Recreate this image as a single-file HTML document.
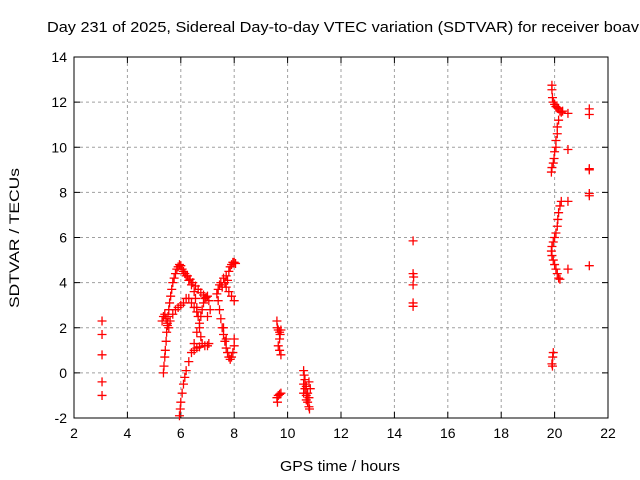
<!DOCTYPE html>
<html><head><meta charset="utf-8"><style>
body{margin:0;background:#fff;}
svg{display:block;font-family:"Liberation Sans",sans-serif;}
</style></head><body>
<svg id="chart" width="640" height="480">
<rect width="640" height="480" fill="#fff"/>
<text x="47" y="32" font-size="15" textLength="592" lengthAdjust="spacingAndGlyphs">Day 231 of 2025, Sidereal Day-to-day VTEC variation (SDTVAR) for receiver boav</text>
<text x="280" y="471" font-size="15" textLength="120" lengthAdjust="spacingAndGlyphs">GPS time / hours</text>
<text x="0" y="0" font-size="14" textLength="140" lengthAdjust="spacingAndGlyphs" transform="translate(19,308) rotate(-90)">SDTVAR / TECUs</text>
<g id="grid"></g><g id="axes"></g><g id="marks"></g>
</svg>
<script>
const xTicks=[2,4,6,8,10,12,14,16,18,20,22];
const yTicks=[-2,0,2,4,6,8,10,12,14];
const hours=[3.05,3.05,3.05,3.05,3.05,
5.35,5.37,5.4,5.42,5.45,5.47,5.5,5.52,5.55,5.58,5.62,5.66,5.7,5.75,5.8,5.85,5.9,5.95,6.0,6.05,6.1,6.15,6.2,6.3,6.4,6.5,6.55,6.6,6.65,6.7,6.75,6.8,6.9,7.0,7.05,
5.95,5.98,6.0,6.05,6.1,6.15,6.2,6.3,6.4,6.5,6.6,6.7,6.75,6.8,6.85,6.9,7.0,7.05,7.1,7.0,
5.3,5.35,5.4,5.45,5.5,5.55,5.6,5.7,5.8,5.9,6.0,6.1,6.2,6.3,6.4,6.5,6.6,
6.25,6.35,6.45,6.55,6.65,6.75,6.85,6.95,6.6,6.7,6.5,
7.35,7.4,7.45,7.5,7.55,7.6,7.65,7.7,7.75,7.8,7.85,7.9,7.95,8.0,8.05,7.7,7.8,7.9,8.0,
7.4,7.45,7.5,7.55,7.6,7.65,7.7,7.75,7.8,7.85,7.9,7.95,8.0,8.0,7.6,7.7,
9.6,9.62,9.65,9.7,9.72,9.75,9.7,9.65,9.7,9.75,9.6,9.62,9.65,9.7,9.75,
10.6,10.62,10.65,10.6,10.65,10.7,10.75,10.7,10.8,10.75,10.8,10.82,10.85,10.8,10.6,10.7,
14.7,14.7,14.72,14.7,14.7,14.7,
19.9,19.9,19.92,19.95,20.0,20.05,20.1,20.15,20.2,20.25,20.3,20.15,20.1,20.1,20.05,20.05,20.0,19.98,19.95,19.9,19.88,
20.25,20.2,20.15,20.12,20.1,20.05,20.0,19.95,19.9,19.88,19.9,19.95,20.0,20.05,20.1,20.15,20.2,
19.95,19.93,19.9,19.92,
20.5,20.5,20.5,20.5,21.3,21.3,21.3,21.3,21.3,21.3,21.3];
const sdtvar=[2.3,1.7,0.8,-0.4,-1.0,
0.0,0.3,0.7,1.0,1.4,1.8,2.1,2.5,2.8,3.1,3.4,3.7,4.0,4.2,4.4,4.6,4.7,4.8,4.75,4.6,4.5,4.4,4.3,4.1,3.9,3.6,3.3,2.9,2.5,2.0,1.6,1.3,1.2,1.2,1.3,
-1.9,-1.6,-1.3,-0.9,-0.5,-0.2,0.1,0.5,0.9,1.3,1.8,2.2,2.5,2.8,3.1,3.3,3.4,3.2,2.8,2.5,
2.3,2.5,2.6,2.4,2.2,2.0,2.3,2.6,2.8,2.9,3.0,3.1,3.3,3.3,3.1,2.9,2.7,
4.3,4.15,4.0,3.85,3.7,3.55,3.45,3.35,1.1,1.15,1.0,
3.5,3.7,3.9,4.0,3.8,4.2,4.0,4.3,4.1,4.5,4.7,4.8,4.9,4.9,4.85,3.8,3.6,3.4,3.2,
3.2,2.8,2.4,2.0,1.7,1.4,1.1,0.9,0.7,0.6,0.7,0.9,1.2,1.5,2.0,1.5,
2.3,2.0,1.9,1.8,1.7,1.9,1.5,1.2,1.0,0.8,-1.1,-1.3,-1.0,-0.95,-0.9,
0.1,-0.1,-0.3,-0.5,-0.7,-0.6,-0.9,-1.0,-1.1,-1.3,-1.5,-1.6,-0.7,-0.4,-0.9,-1.2,
5.85,4.4,4.25,3.9,3.1,2.95,
12.75,12.55,12.2,12.0,11.9,11.8,11.75,11.7,11.6,11.55,11.6,11.2,10.9,10.6,10.3,10.0,9.8,9.5,9.3,9.1,8.9,
7.6,7.4,7.1,6.8,6.5,6.2,6.0,5.8,5.6,5.4,5.2,5.0,4.8,4.6,4.4,4.2,4.15,
0.9,0.7,0.4,0.3,
11.5,9.9,7.6,4.6,11.7,11.45,9.05,9.0,7.95,7.85,4.75];

const L=74,R=608,T=57,B=418,NS="http://www.w3.org/2000/svg";
const xs=v=>L+(v-2)/20*(R-L), ys=v=>B-(v+2)/16*(B-T);
function mk(tag,at,parent){const e=document.createElementNS(NS,tag);for(const k in at)e.setAttribute(k,at[k]);parent.appendChild(e);return e;}
const grid=document.getElementById('grid'),axes=document.getElementById('axes'),marks=document.getElementById('marks');
xTicks.forEach(t=>{const x=xs(t);
 if(t>2&&t<22){const g=mk('line',{x1:x,x2:x,y1:T,y2:B,stroke:'#a0a0a0','stroke-dasharray':'3,3'},grid);
 
 }
 mk('line',{x1:x,x2:x,y1:B,y2:B-6,stroke:'#000'},axes);mk('line',{x1:x,x2:x,y1:T,y2:T+6,stroke:'#000'},axes);
 const tx=mk('text',{x:x,y:B+20,'font-size':14,'text-anchor':'middle'},axes);tx.textContent=t;
 
 });
yTicks.forEach(t=>{const y=ys(t);
 if(t>-2&&t<14){const g=mk('line',{x1:L,x2:R,y1:y,y2:y,stroke:'#a0a0a0','stroke-dasharray':'3,3'},grid);
 
 }
 mk('line',{x1:L,x2:L+6,y1:y,y2:y,stroke:'#000'},axes);mk('line',{x1:R,x2:R-6,y1:y,y2:y,stroke:'#000'},axes);
 const tx=mk('text',{x:L-7,y:y+5,'font-size':14,'text-anchor':'end'},axes);tx.textContent=t;
 
 });
const fr=mk('rect',{x:L,y:T,width:R-L,height:B-T,fill:'none',stroke:'#000'},axes);


hours.forEach((h,i)=>{const x=xs(h),y=ys(sdtvar[i]);
 const p=mk('path',{d:`M${x-4.5},${y}h9M${x},${y-4.5}v9`,stroke:'#f00','stroke-width':1.3,fill:'none'},marks);
 
 });
</script>
</body></html>
